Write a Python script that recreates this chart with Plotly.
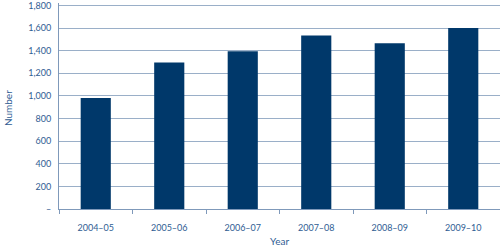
import plotly.graph_objects as go

years = ["2004–05", "2005–06", "2006–07", "2007–08", "2008–09", "2009–10"]
values = [982, 1295, 1395, 1535, 1465, 1600]
ytick_vals = [0, 200, 400, 600, 800, 1000, 1200, 1400, 1600, 1800]
ytick_text = ["–", "200", "400", "600", "800", "1,000", "1,200", "1,400", "1,600", "1,800"]

bar_color = "#00386A"
text_color = "#2F5D93"
grid_color = "#9AAFC8"
axis_color = "#7F99BA"
font_family = "Lato, 'Open Sans', sans-serif"

fig = go.Figure(go.Bar(x=years, y=values, marker=dict(color=bar_color, line=dict(width=0)),
                       width=0.41))

fig.update_layout(
    width=500, height=246,
    margin=dict(l=59, r=0, t=1, b=37),
    paper_bgcolor="white", plot_bgcolor="white",
    font=dict(family=font_family, size=9, color=text_color),
    showlegend=False,
    xaxis=dict(
        type="category", showline=True, linecolor=axis_color, linewidth=1,
        ticks="outside", tickson="boundaries", ticklen=4, tickcolor=axis_color,
        showgrid=False, ticklabelstandoff=10, tickfont=dict(size=9, color=text_color),
    ),
    yaxis=dict(
        range=[0, 1822], tickvals=ytick_vals, ticktext=ytick_text,
        showgrid=True, gridcolor=grid_color, gridwidth=1,
        showline=True, linecolor=axis_color, linewidth=1,
        ticks="", ticklabelstandoff=5, zeroline=False, ticklabeloverflow="allow",
        tickfont=dict(size=9, color=text_color),
    ),
    annotations=[
        dict(text="Number", x=-0.1156, y=0.49, xref="paper", yref="paper",
             textangle=-90, showarrow=False, xanchor="center", yanchor="middle",
             font=dict(size=10, color=text_color)),
        dict(text="Year", x=0.5, y=-0.157, xref="paper", yref="paper",
             showarrow=False, xanchor="center", yanchor="middle",
             font=dict(size=10, color=text_color)),
    ],
)

fig.write_html("out.html")
